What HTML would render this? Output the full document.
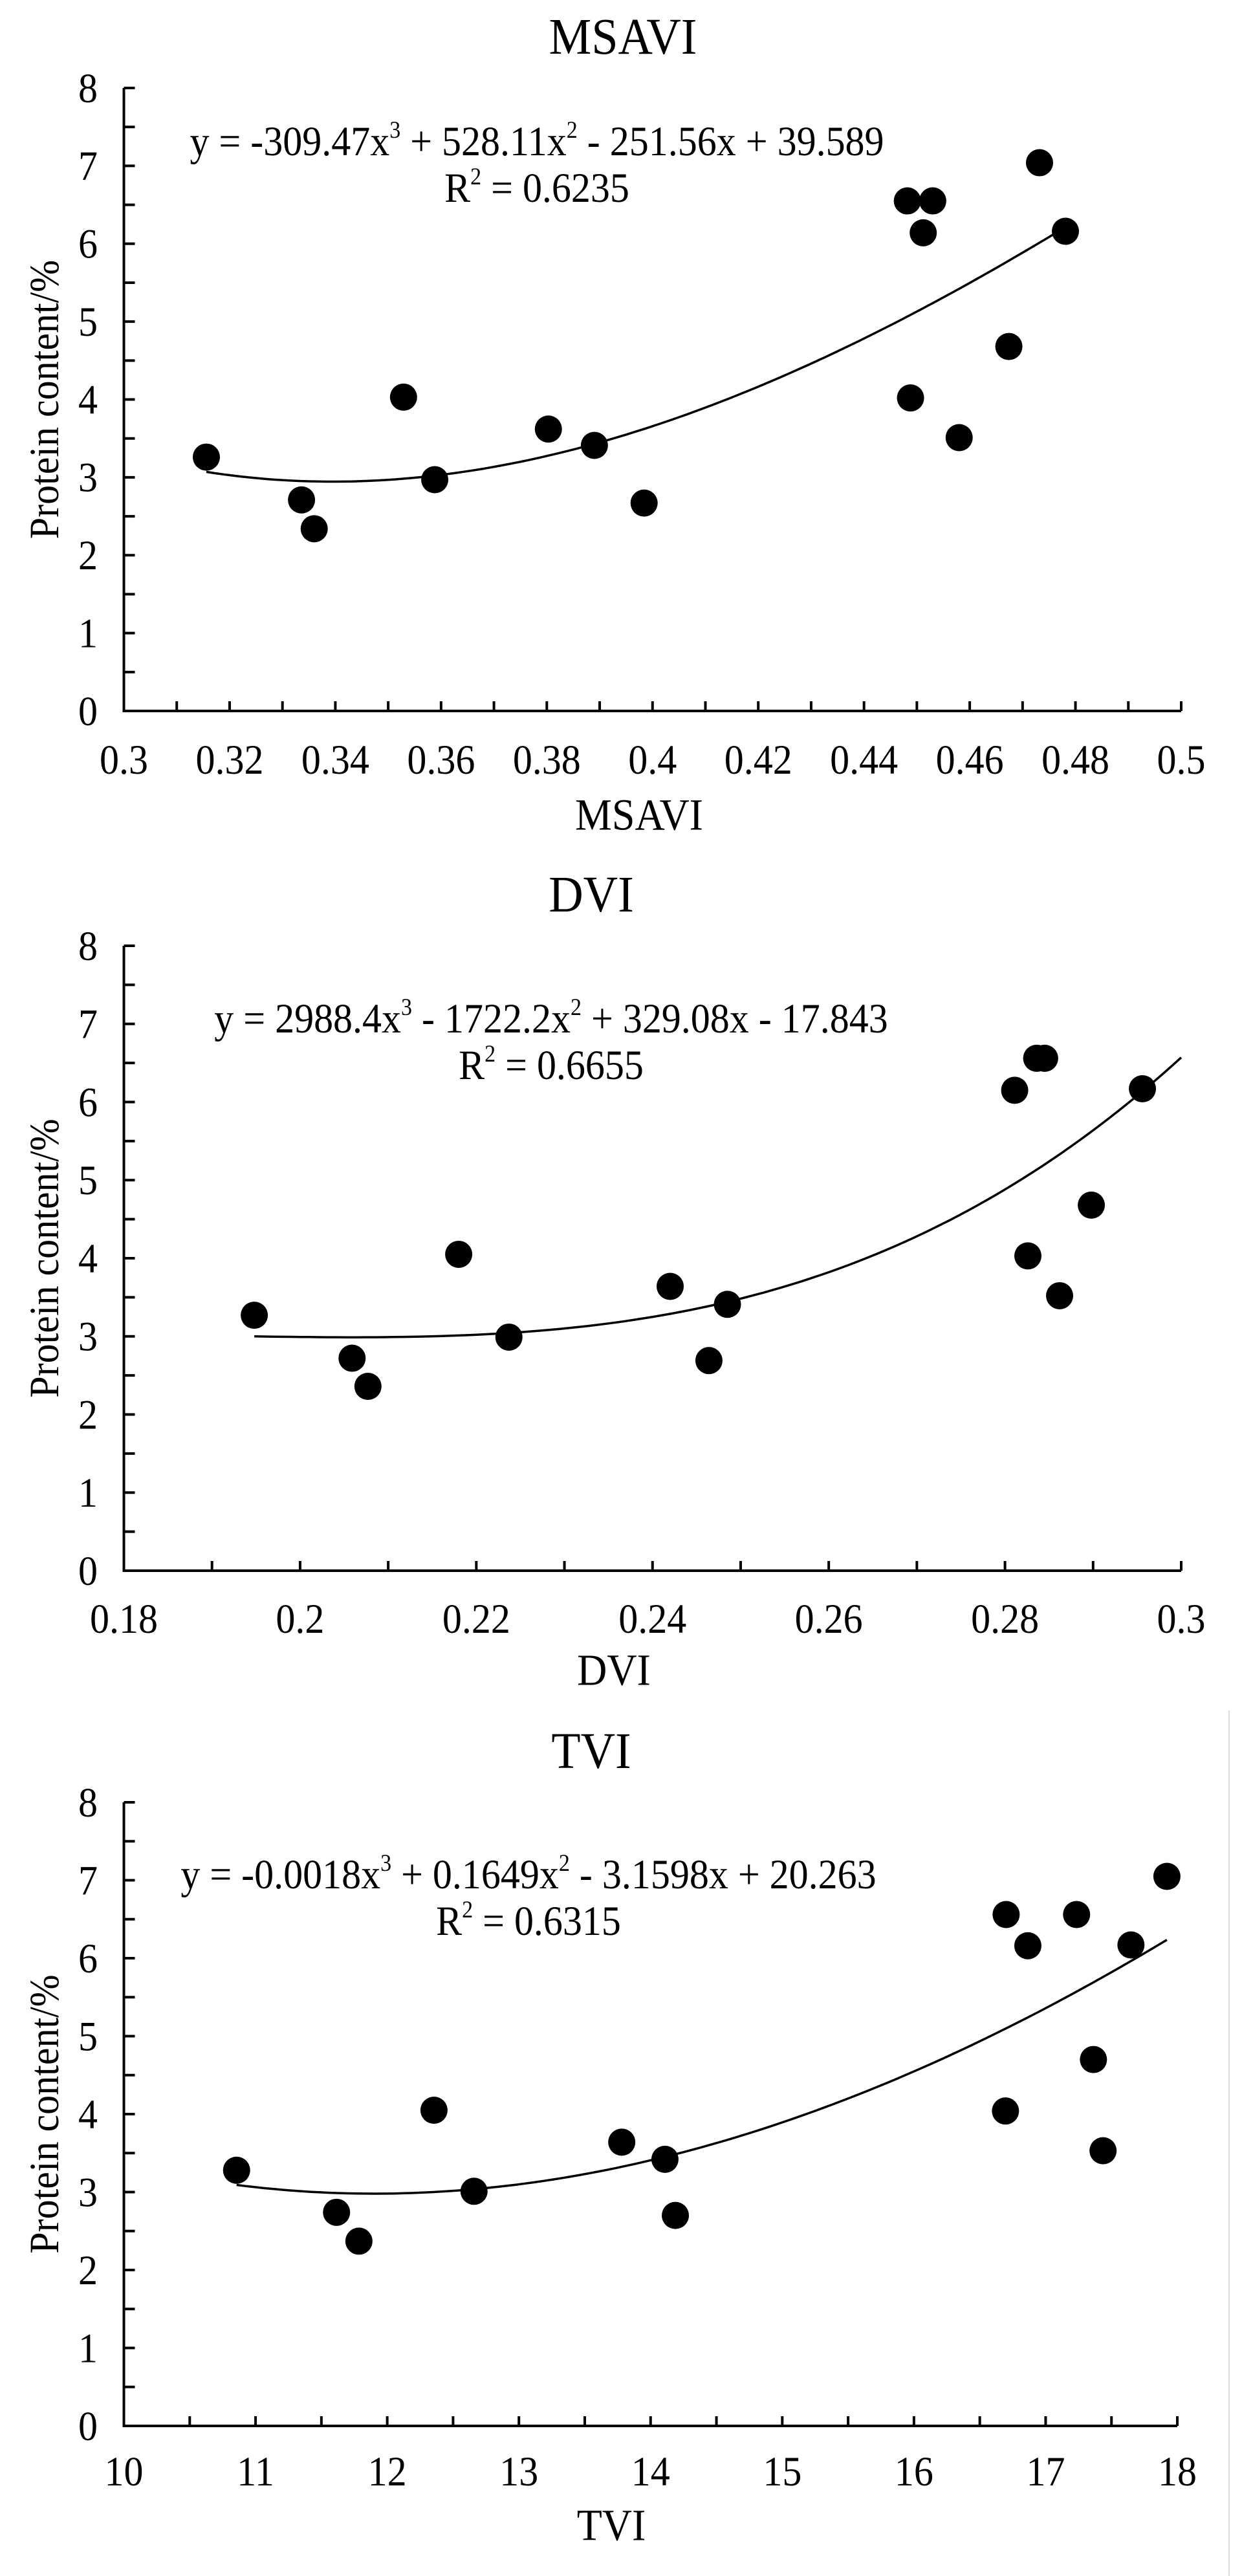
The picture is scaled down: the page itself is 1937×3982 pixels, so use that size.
<!DOCTYPE html>
<html><head><meta charset="utf-8"><style>
html,body{margin:0;padding:0;background:#fff;}
svg{display:block;}
text{font-family:"Liberation Serif","Times New Roman",serif;fill:#000;}
</style></head><body>
<svg id="fig" width="1937" height="3982" viewBox="0 0 1937 3982" xmlns="http://www.w3.org/2000/svg">
<line x1="1900" y1="2644" x2="1900" y2="3982" stroke="#dddddd" stroke-width="2"/>
</svg>
<script>
// MSAVI data
const msaviX = [0.3156,0.3336,0.3360,0.3529,0.3588,0.3803,0.3890,0.3984,0.4482,0.4530,0.4512,0.4488,0.4580,0.4674,0.4732,0.4781];
const msaviY = [3.26,2.71,2.34,4.03,2.97,3.62,3.41,2.67,6.55,6.55,6.14,4.02,3.51,4.68,7.04,6.16];
const msaviCoef = [-309.47,528.11,-251.56,39.589];
const msaviXTicks = ["0.3","0.32","0.34","0.36","0.38","0.4","0.42","0.44","0.46","0.48","0.5"];
// DVI data
const dviX = [0.1948,0.2059,0.2077,0.2180,0.2237,0.2420,0.2464,0.2485,0.2811,0.2836,0.2845,0.2826,0.2862,0.2898,0.2956];
const dviY = [3.27,2.72,2.36,4.05,2.99,3.64,2.69,3.41,6.15,6.56,6.56,4.03,3.52,4.68,6.17];
const dviCoef = [2988.4,-1722.2,329.08,-17.843];
const dviXTicks = ["0.18","0.2","0.22","0.24","0.26","0.28","0.3"];
// TVI data
const tviX = [10.856,11.615,11.785,12.355,12.659,13.781,14.109,14.188,16.70,16.865,16.695,17.235,17.363,17.436,17.648,17.921];
const tviY = [3.28,2.74,2.37,4.05,3.01,3.64,3.42,2.70,6.56,6.16,4.04,6.56,4.70,3.53,6.17,7.05];
const tviCoef = [-0.0018,0.1649,-3.1598,20.263];
const tviXTicks = ["10","11","12","13","14","15","16","17","18"];
const yTicks = ["0","1","2","3","4","5","6","7","8"];

const NS="http://www.w3.org/2000/svg";
const svg=document.getElementById('fig');
const SY=1.08;
function mk(tag,attrs,parent){const e=document.createElementNS(NS,tag);for(const k in attrs)e.setAttribute(k,attrs[k]);(parent||svg).appendChild(e);return e;}
function txt(x,y,s,anchor,parent,rot,fs){
  const t=mk('text',{'text-anchor':anchor||'middle','dominant-baseline':'central','font-size':String(fs||60),
    transform:'translate('+x+','+y+')'+(rot?' rotate(-90)':'')+' scale(1,'+SY+')'},parent);
  t.innerHTML=s;return t;
}
function chart(cfg){
  const g=mk('g',{});
  
  
  const x0=191.5,x1=cfg.xr,yTop=cfg.yTop,yBot=cfg.yBot;
  const sx=v=>x0+(v-cfg.xmin)/(cfg.xmax-cfg.xmin)*(x1-x0);
  const sy=v=>yBot-v/8*(yBot-yTop);
  const title=txt(cfg.titleX,cfg.titleY,cfg.name,'middle',g,false,74);
  
  
  const ax=mk('path',{d:'M'+x0+' '+yTop+' V'+yBot+' H'+x1,fill:'none',stroke:'#000','stroke-width':4},g);
  
  
  for(let i=0;i<=16;i++){
    const v=i/2,y=sy(v);
    mk('line',{x1:x0,x2:x0+17,y1:y,y2:y,stroke:'#000','stroke-width':4},g);
  }
  yTicks.forEach((s,i)=>{
    const t=txt(136,sy(+s),s,'middle',g);
    
    
  });
  const nMinor=cfg.minorCount;
  for(let i=0;i<=nMinor;i++){
    const v=cfg.xmin+i*(cfg.xmax-cfg.xmin)/nMinor,x=sx(v);
    mk('line',{x1:x,x2:x,y1:yBot,y2:yBot-15,stroke:'#000','stroke-width':4},g);
  }
  cfg.ticks.forEach(s=>{
    const t=txt(sx(parseFloat(s)),cfg.tickY,s,'middle',g);
    
    
  });
  const xt=txt(cfg.axX,cfg.axY,cfg.name,'middle',g,false,64);
  
  
  const yt=txt(68,(yTop+yBot)/2,'Protein content/%','middle',g,true);
  
  
  const eq=txt(cfg.eqX,cfg.eqY,cfg.eq,'middle',g);
  
  
  const r2=txt(cfg.eqX,cfg.eqY+72,cfg.r2,'middle',g);
  
  
  cfg.xs.forEach((v,i)=>{
    const c=mk('circle',{cx:sx(v),cy:sy(cfg.ys[i]),r:21,fill:'#000'},g);
    
    
  });
  const c=cfg.coef,f=x=>((c[0]*x+c[1])*x+c[2])*x+c[3];
  const xa=Math.min(...cfg.xs),xb=Math.min(Math.max(...cfg.xs),cfg.xmax);
  const xe=cfg.trendEnd!==undefined?cfg.trendEnd:xb;
  let d='';
  for(let i=0;i<=100;i++){const x=xa+(xe-xa)*i/100;d+=(i?'L':'M')+sx(x).toFixed(1)+' '+sy(f(x)).toFixed(1);}
  const p=mk('path',{d:d,fill:'none',stroke:'#000','stroke-width':3.5},g);
  
  
}
chart({name:'MSAVI',xmin:0.3,xmax:0.5,xr:1826,yTop:136,yBot:1099,minorCount:20,ticks:msaviXTicks,
  xs:msaviX,ys:msaviY,coef:msaviCoef,titleX:963,titleY:56,tickY:1174,axX:988,axY:1260,
  eqX:830,eqY:218,eq:'y = -309.47x<tspan font-size="34" dy="-16">3</tspan><tspan dy="16"> + 528.11x</tspan><tspan font-size="34" dy="-16">2</tspan><tspan dy="16"> - 251.56x + 39.589</tspan>',
  r2:'R<tspan font-size="34" dy="-16">2</tspan><tspan dy="16"> = 0.6235</tspan>'});
chart({name:'DVI',xmin:0.18,xmax:0.3,xr:1826,yTop:1462,yBot:2428,minorCount:12,ticks:dviXTicks,
  xs:dviX,ys:dviY,coef:dviCoef,trendEnd:0.3,titleX:914,titleY:1382,tickY:2502,axX:949,axY:2582,
  eqX:852,eqY:1574,eq:'y = 2988.4x<tspan font-size="34" dy="-16">3</tspan><tspan dy="16"> - 1722.2x</tspan><tspan font-size="34" dy="-16">2</tspan><tspan dy="16"> + 329.08x - 17.843</tspan>',
  r2:'R<tspan font-size="34" dy="-16">2</tspan><tspan dy="16"> = 0.6655</tspan>'});
chart({name:'TVI',xmin:10,xmax:18,xr:1820,yTop:2786,yBot:3750,minorCount:16,ticks:tviXTicks,
  xs:tviX,ys:tviY,coef:tviCoef,titleX:914,titleY:2706,tickY:3820,axX:945,axY:3904,
  eqX:817,eqY:2897,eq:'y = -0.0018x<tspan font-size="34" dy="-16">3</tspan><tspan dy="16"> + 0.1649x</tspan><tspan font-size="34" dy="-16">2</tspan><tspan dy="16"> - 3.1598x + 20.263</tspan>',
  r2:'R<tspan font-size="34" dy="-16">2</tspan><tspan dy="16"> = 0.6315</tspan>'});
</script>
</body></html>
